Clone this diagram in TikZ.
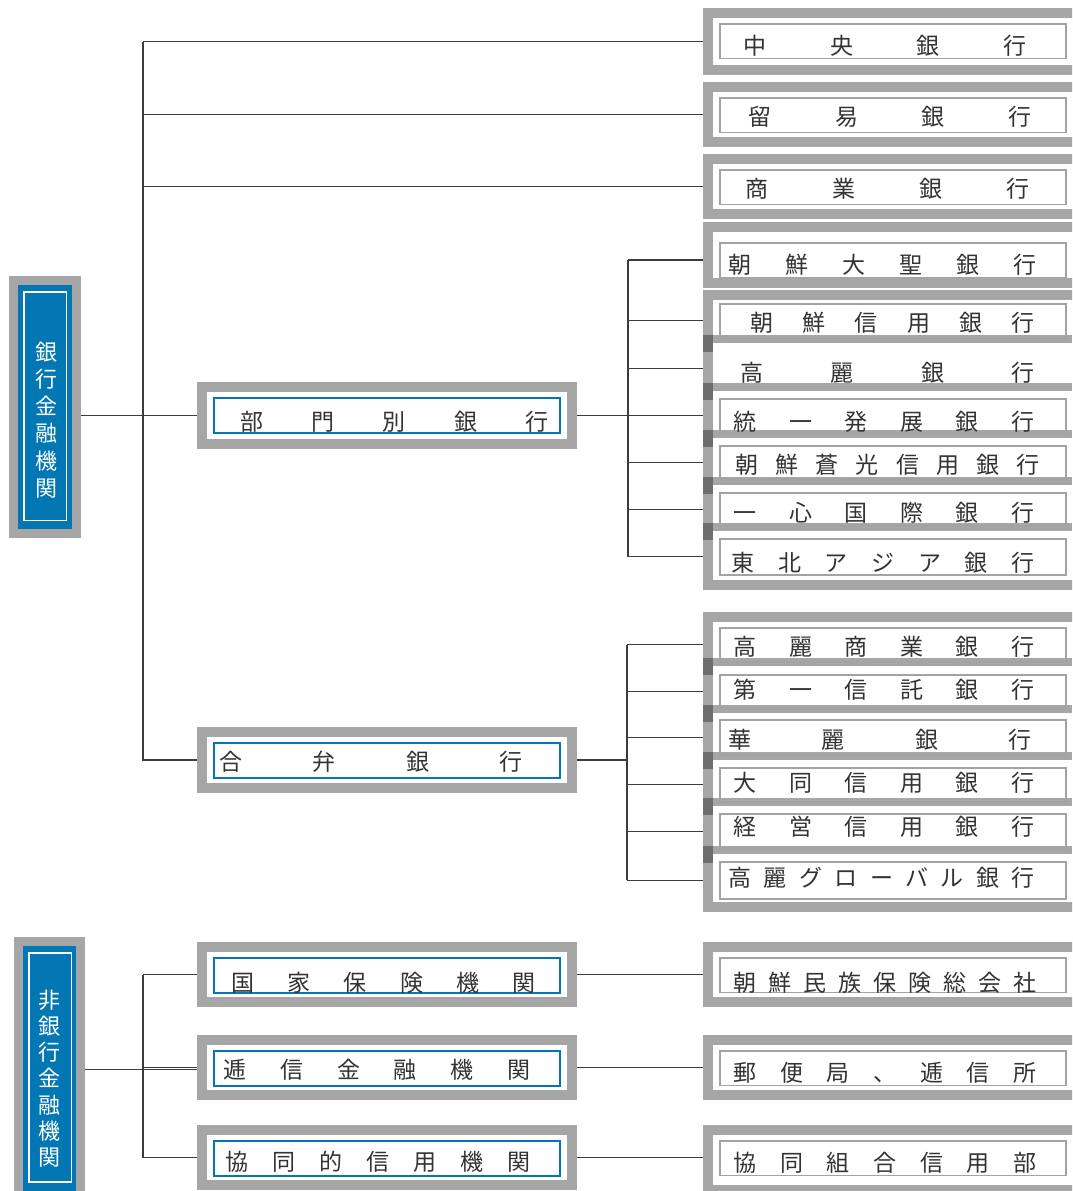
\documentclass[tikz,border=0pt]{standalone}
\usepackage{fontspec}
\newfontfamily\jpfont{Noto Sans CJK JP}
\definecolor{framegray}{HTML}{A6A6A6}
\definecolor{bandgray}{HTML}{6E6E6E}
\definecolor{rowgray}{HTML}{A3A3A3}
\definecolor{bankblue}{HTML}{0377B3}
\definecolor{linegray}{HTML}{3C3C3C}
% 文字を均等に配置する
\def\spreadtxt#1#2{\hbox to #1{\expandafter\spreadfirst#2\relax}}
\def\spreadfirst#1{\ifx\relax#1\else#1\expandafter\spreadnext\fi}
\def\spreadnext#1{\ifx\relax#1\else\hfill#1\expandafter\spreadnext\fi}
\begin{document}
\begin{tikzpicture}[
    x=1pt, y=-1pt,
    font=\jpfont,
    conn/.style={draw=linegray, line width=1.1pt},
    grayframe/.style={draw=framegray, line width=10pt, fill=white, inner sep=0pt, anchor=north west},
    rframe/.style={grayframe, minimum width=372},
    mframe/.style={grayframe, minimum width=370},
    rrow/.style={draw=rowgray, line width=1.5pt, inner sep=0pt, anchor=north west, minimum width=346},
    mrow/.style={draw=bankblue, line width=1.5pt, inner sep=0pt, anchor=north west, minimum width=346},
    jtxt/.style={inner sep=0pt, text=black!80, font=\jpfont\fontsize{23}{23}\selectfont, text height=19pt, text depth=2pt},
    vtxt/.style={inner sep=0pt, text=white, align=center},
    bankbox/.style={draw=framegray, line width=9pt, fill=bankblue, inner sep=0pt, anchor=north west},
    bankin/.style={draw=white, line width=1.5pt, inner sep=0pt, anchor=north west, minimum width=42.5}
]
    \useasboundingbox (0,0) rectangle (1072,1191);
    \clip (0,0) rectangle (1072,1191);

    % 銀行金融機関 / 非銀行金融機関
    \node[bankbox, minimum width=63, minimum height=253] (bank) at (9,276) {};
    \node[bankin, minimum height=228.5] (bank-in) at (23,291) {};
    \node[vtxt, font=\jpfont\fontsize{22}{27.2}\selectfont] (bank-t) at (46,420) {銀\\行\\金\\融\\機\\関};
    \node[bankbox, minimum width=62, minimum height=256] (nonbank) at (14,937) {};
    \node[bankin, minimum height=229] (nonbank-in) at (28,952) {};
    \node[vtxt, font=\jpfont\fontsize{22}{26.2}\selectfont] (nonbank-t) at (49,1078.5) {非\\銀\\行\\金\\融\\機\\関};

    % 中段の枠
    \foreach \nm/\ry/\fh/\xa/\xb/\ty/\txt in {
        sect/382/57/252/537/422/部門別銀行,
        joint/727/56/231/511/762/合弁銀行,
        kokka/942/55/243/524/983/国家保険機関,
        teishin/1035/55/235/519/1070/逓信金融機関,
        kyodo/1125/55/237/519/1162/協同的信用機関} {
        \node[mframe, minimum height=\fh] (\nm) at (197,\ry) {};
        \node[mrow, minimum height=35] (\nm-in) at (213,\ry+15) {};
        \pgfmathsetlengthmacro\spanw{\xb-\xa+23}
        \node[jtxt] (\nm-t) at ({(\xa+\xb)/2},\ty) {\spreadtxt{\spanw}{\txt}};
    }

    % 右側の単独枠
    \foreach \nm/\ry/\fh/\ri/\xa/\xb/\ty/\txt in {
        chuo/8/57/23/755/1015/46/中央銀行,
        boeki/82/55/97/760/1020/117/留易銀行,
        shogyo/154/55/169/757/1018/189/商業銀行,
        taisei/222/56/242/740/1025/265/朝鮮大聖銀行,
        minzoku/942/55/957/745/1025/983/朝鮮民族保険総会社,
        yubin/1035/55/1050/745/1025/1073/郵便局、逓信所,
        kumiai/1125/60/1140/745/1025/1163/協同組合信用部} {
        \node[rframe, minimum height=\fh] (\nm-f) at (703,\ry) {};
        \node[rrow, minimum height=34.5] (\nm) at (719,\ri) {};
        \pgfmathsetlengthmacro\spanw{\xb-\xa+23}
        \node[jtxt] (\nm-t) at ({(\xa+\xb)/2},\ty) {\spreadtxt{\spanw}{\txt}};
    }

    % 右側のグループ枠
    \node[rframe, minimum height=290] (g1) at (703,290) {};
    \node[rframe, minimum height=290] (g2) at (703,612) {};
    \foreach \y in {335,383,430,477,523,658,705,752,798,846} {
        \fill[framegray] (713,\y) rectangle (1072,\y+8);
        \fill[bandgray] (703,\y) rectangle (713,\y+17);
    }
    \foreach \nm/\ry/\rh/\dc/\xa/\xb/\ty/\txt in {
        g1a/303/34/rowgray/762/1023/323/朝鮮信用銀行,
        g1b/350/35/none/752/1023/373/高麗銀行,
        g1c/398/34/rowgray/745/1023/422/統一発展銀行,
        g1d/445/33/rowgray/747/1028/465/朝鮮蒼光信用銀行,
        g1e/492/33/rowgray/745/1023/513/一心国際銀行,
        g1f/538/36/rowgray/743/1023/563/東北アジア銀行,
        g2a/627/34/rowgray/745/1023/647/高麗商業銀行,
        g2b/674/33/rowgray/745/1023/690/第一信託銀行,
        g2c/719/35/rowgray/740/1020/740/華麗銀行,
        g2d/767/34/rowgray/745/1023/783/大同信用銀行,
        g2e/813/35/rowgray/745/1023/827/経営信用銀行,
        g2f/861/37/rowgray/740/1023/878/高麗グローバル銀行} {
        \node[rrow, draw=\dc, minimum height=\rh] (\nm) at (719,\ry) {};
        \pgfmathsetlengthmacro\spanw{\xb-\xa+23}
        \node[jtxt] (\nm-t) at ({(\xa+\xb)/2},\ty) {\spreadtxt{\spanw}{\txt}};
    }

    % 接続線
    \coordinate (tk) at (143,0);
    \coordinate (s1) at (628,0);
    \coordinate (s2) at (627,0);
    \draw[conn] (tk |- chuo-f.west) -- (tk |- joint.west) -- (joint.west);
    \foreach \nm in {chuo,boeki,shogyo}
        \draw[conn] (tk |- \nm-f.west) -- (\nm-f.west);
    \draw[conn] (bank.east |- sect.west) -- (sect.west);
    \draw[conn] (sect.east) -- (g1.west |- sect.east);
    \draw[conn] (s1 |- taisei.west) -- (s1 |- g1f.west);
    \draw[conn] (s1 |- taisei.west) -- (taisei-f.west |- taisei.west);
    \foreach \nm in {g1a,g1b,g1c,g1d,g1e,g1f}
        \draw[conn] (s1 |- \nm.west) -- (g1.west |- \nm.west);
    \draw[conn] (joint.east) -- (s2 |- joint.east);
    \draw[conn] (s2 |- g2a.west) -- (s2 |- g2f.west);
    \foreach \nm in {g2a,g2b,g2c,g2d,g2e,g2f}
        \draw[conn] (s2 |- \nm.west) -- (g2.west |- \nm.west);
    \draw[conn] (tk |- kokka.west) -- (tk |- kyodo.west);
    \foreach \nm in {kokka,teishin,kyodo}
        \draw[conn] (tk |- \nm.west) -- (\nm.west);
    \draw[conn] (nonbank.east) -- (nonbank.east -| teishin.west);
    \draw[conn] (kokka.east) -- (kokka.east -| minzoku-f.west);
    \draw[conn] (teishin.east) -- (teishin.east -| yubin-f.west);
    \draw[conn] (kyodo.east) -- (kyodo.east -| kumiai-f.west);
\end{tikzpicture}
\end{document}
